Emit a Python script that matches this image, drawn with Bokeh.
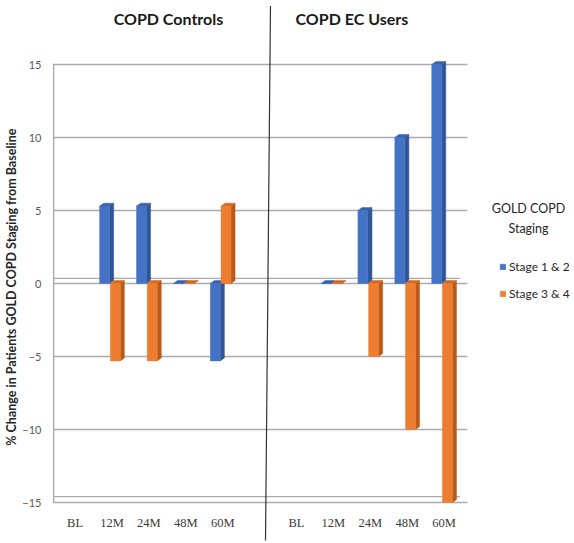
from bokeh.plotting import figure
from bokeh.models import (Range1d, FixedTicker, Label, Legend, LegendItem, ColumnDataSource)
from bokeh.core.properties import value
from bokeh.embed import file_html
from bokeh.resources import INLINE

# ---- data ----
categories = ["BL", "12M", "24M", "48M", "60M", "", "BL", "12M", "24M", "48M", "60M"]
stage_12 = [None, 5.3, 5.3, 0, -5.3, None, None, 0, 5, 10, 15]
stage_34 = [None, -5.3, -5.3, 0, 5.3, None, None, 0, -5, -10, -15]
series_names = ["Stage 1 & 2", "Stage 3 & 4"]
group_titles = ["COPD Controls", "COPD EC Users"]
y_ticks = [-15, -10, -5, 0, 5, 10, 15]

# ---- layout / styling ----
W, H = 574, 543
LEFT = 52
PX_X = 36.9           # px per category
X0_PX = 56.15         # px of x=0
PX_Y = 14.6           # px per unit
Y0_PX = 283.0         # px of y=0
CAT_END = 11.13       # right edge of the chart walls (data units)
FACE_W = 0.27
DX = 0.11             # depth offset (x, data units)
DY = 0.2              # depth offset (y, data units)
colors = [("#4472C4", "#2F5597", "#3A61AA"), ("#ED7D31", "#B95A1A", "#D4681F")]
offsets = [-0.2, 0.09]
GRID = "#ABABAB"

x_start = (LEFT - X0_PX) / PX_X
x_end = (W - X0_PX) / PX_X
y_end = Y0_PX / PX_Y
y_start = -(H - Y0_PX) / PX_Y

p = figure(width=W, height=H, output_backend="svg", toolbar_location=None,
           x_range=Range1d(x_start, x_end), y_range=Range1d(y_start, y_end),
           min_border_left=LEFT, min_border_right=0, min_border_top=0, min_border_bottom=0)
p.outline_line_color = None
p.background_fill_color = "white"
p.border_fill_color = "white"
p.xaxis.visible = False
p.xgrid.visible = False
p.ygrid.visible = False

p.yaxis.ticker = FixedTicker(ticks=y_ticks)
p.yaxis.axis_line_color = None
p.yaxis.major_tick_line_color = None
p.yaxis.minor_tick_line_color = None
p.yaxis.major_label_text_font = "Lato"
p.yaxis.major_label_text_font_size = "11px"
p.yaxis.major_label_text_color = "#595959"
p.yaxis.major_label_standoff = 5
p.yaxis.axis_label = "% Change  in Patients GOLD COPD Staging from Baseline" + "\u00a0" * 9
p.yaxis.axis_label_text_font = "Lato"
p.yaxis.axis_label_text_font_style = "bold"
p.yaxis.axis_label_text_font_size = "12.5px"
p.yaxis.axis_label_text_color = "#262626"
p.yaxis.axis_label_standoff = 0

# walls: gridlines, floor edges and left edge
lo, hi = min(y_ticks), max(y_ticks)
p.segment(x0=[x_start + 0.01] * len(y_ticks), x1=[CAT_END] * len(y_ticks), y0=y_ticks, y1=y_ticks,
          line_color=GRID, line_width=1.5)
p.segment(x0=[x_start + 0.01, x_start + 0.01], x1=[CAT_END - 0.2, CAT_END - 0.2],
          y0=[0.35, lo + 0.4], y1=[0.35, lo + 0.4], line_color=GRID, line_width=1.2)
p.segment(x0=[x_start + 0.03], x1=[x_start + 0.03], y0=[lo], y1=[hi],
          line_color=GRID, line_width=1.5)

face_renderers = []
for vals, off, (cf, cs, cc) in zip([stage_12, stage_34], offsets, colors):
    xs, tops, bots = [], [], []
    side_x, side_y, cap_x, cap_y = [], [], [], []
    for i, v in enumerate(vals):
        if v is None:
            continue
        xc = i + 0.5 + off
        top, bot = max(v, 0), min(v, 0)
        xs.append(xc); tops.append(top); bots.append(bot)
        x0, x1 = xc - FACE_W / 2, xc + FACE_W / 2
        side_x.append([x1, x1, x1 + DX, x1 + DX])
        side_y.append([bot, top, top + DY, bot + DY])
        cap_x.append([x0, x1, x1 + DX, x0 + DX])
        cap_y.append([top, top, top + DY, top + DY])
    src = ColumnDataSource(dict(x=xs, top=tops, bottom=bots))
    p.patches(side_x, side_y, fill_color=cs, line_color=cs, line_width=0.5)
    p.patches(cap_x, cap_y, fill_color=cc, line_color=cc, line_width=0.5)
    r = p.vbar(x="x", top="top", bottom="bottom", width=FACE_W, source=src,
               fill_color=cf, line_color=cf, line_width=0.5)
    face_renderers.append(r)

# category labels under the chart
xt = [i + 0.5 for i in range(len(categories))]
p.text(x=xt, y=[-16.37] * len(xt), text=categories, text_align="center", text_baseline="middle",
       text_font=value("Liberation Serif"), text_font_size="12.5px", text_color="#3a3a3a")

# group headers
p.text(x=[3.03, 8.0], y=[18.15, 18.15], text=group_titles, text_align="center", text_baseline="middle",
       text_font=value("Lato"), text_font_style="bold", text_font_size="16px", text_color="#1a1a1a")

# separator between the two groups
p.segment(x0=[5.795], y0=[19.0], x1=[5.66], y1=[-17.6], line_color="#333333", line_width=1.2)

legend = Legend(items=[LegendItem(label=n, renderers=[r]) for n, r in zip(series_names, face_renderers)],
                location=(447, 242), orientation="vertical")
legend.glyph_width = 7
legend.glyph_height = 7
legend.label_height = 12
legend.spacing = 12
legend.label_standoff = 3
legend.padding = 0
legend.margin = 0
legend.border_line_color = None
legend.background_fill_alpha = 0
legend.label_text_font = "Lato"
legend.label_text_font_size = "12px"
legend.label_text_color = "#262626"
p.add_layout(legend, "center")

for txt, yy in [("GOLD COPD", 335), ("Staging", 315)]:
    p.add_layout(Label(x=476, y=yy, x_units="screen", y_units="screen", text=txt,
                       text_align="center", text_baseline="middle",
                       text_font="Lato", text_font_size="12.5px", text_color="#262626"))

open("out.html", "w").write(file_html(p, INLINE))
